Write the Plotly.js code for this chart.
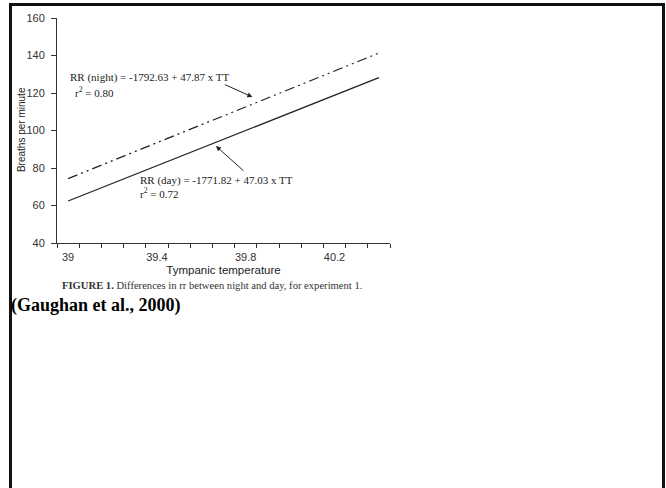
<!DOCTYPE html>
<html>
<head>
<meta charset="utf-8">
<script src="https://cdn.plot.ly/plotly-3.0.1.min.js"></script>
<style>
  html, body { margin: 0; padding: 0; background: #fff; }
  #chart { width: 666px; height: 488px; }
</style>
</head>
<body>
<div id="chart"></div>
<script>
// Data
var tympanicTemp = [39.0, 40.4];
var nightRR = [74.3, 141.3];
var dayRR = [62.4, 128.2];
var xTickValues = [39.0, 39.4, 39.8, 40.2];
var xTickLabels = ['39', '39.4', '39.8', '40.2'];
var yTickValues = [40, 60, 80, 100, 120, 140, 160];

var yTitle = 'Breaths per minute';
var xTitle = 'Tympanic temperature';
var nightText = 'RR (night) = -1792.63 + 47.87 x TT';
var nightR2 = 'r<sup>2</sup> = 0.80';
var dayText = 'RR (day) = -1771.82 + 47.03 x TT';
var dayR2 = 'r<sup>2</sup> = 0.72';
var captionText = '<b>FIGURE 1.</b> Differences in rr between night and day, for experiment 1.';
var sourceText = '<b>(Gaughan et al., 2000)</b>';

var sans = 'Liberation Sans, Arial, sans-serif';
var serif = 'Liberation Serif, Times New Roman, serif';

var traces = [
  {
    x: tympanicTemp, y: nightRR, type: 'scatter', mode: 'lines',
    line: { color: '#222', width: 1.3, dash: '10px,4px,2px,4px,2px,4px' },
    hoverinfo: 'skip', showlegend: false
  },
  {
    x: tympanicTemp, y: dayRR, type: 'scatter', mode: 'lines',
    xaxis: 'x2',
    line: { color: '#222', width: 1.3 },
    hoverinfo: 'skip', showlegend: false
  }
];

var layout = {
  width: 666, height: 488,
  margin: { l: 57, r: 276, t: 18, b: 245, pad: 0 },
  paper_bgcolor: '#fff', plot_bgcolor: '#fff',
  showlegend: false,
  xaxis: {
    range: [38.95, 40.45],
    tickmode: 'array', tickvals: xTickValues, ticktext: xTickLabels,
    ticks: '', showgrid: false, zeroline: false,
    showline: true, linecolor: '#333', linewidth: 1,
    tickfont: { family: sans, size: 11, color: '#333' },
    ticklabelstandoff: 4,
    title: { text: xTitle, font: { family: sans, size: 11.5, color: '#222' }, standoff: 3 }
  },
  xaxis2: {
    range: [38.95, 40.45], overlaying: 'x', anchor: 'y', side: 'bottom',
    tick0: 38.95, dtick: 0.1, tickmode: 'linear',
    ticks: 'outside', ticklen: 4, tickcolor: '#333', tickwidth: 1,
    showticklabels: false, showgrid: false, zeroline: false, showline: false
  },
  yaxis: {
    range: [40, 160],
    tickmode: 'array', tickvals: yTickValues,
    ticks: 'outside', ticklen: 5, tickcolor: '#333', tickwidth: 1,
    showgrid: false, zeroline: false,
    showline: true, linecolor: '#333', linewidth: 1,
    tickfont: { family: sans, size: 11, color: '#333' },
    ticklabelstandoff: 4
  },
  annotations: [
    { x: (21 - 57) / 333, y: 0.502, xref: 'paper', yref: 'paper', xanchor: 'center', yanchor: 'middle',
      text: yTitle, textangle: -90, showarrow: false, font: { family: sans, size: 10, color: '#222' } },
    { x: 39.0, y: 128.5, xref: 'x', yref: 'y', xanchor: 'left', yanchor: 'middle',
      text: nightText, showarrow: false, font: { family: serif, size: 11, color: '#222' } },
    { x: 39.02, y: 120.5, xref: 'x', yref: 'y', xanchor: 'left', yanchor: 'middle',
      text: nightR2, showarrow: false, font: { family: serif, size: 11, color: '#222' } },
    { x: 39.315, y: 73.1, xref: 'x', yref: 'y', xanchor: 'left', yanchor: 'middle',
      text: dayText, showarrow: false, font: { family: serif, size: 11, color: '#222' } },
    { x: 39.315, y: 66.7, xref: 'x', yref: 'y', xanchor: 'left', yanchor: 'middle',
      text: dayR2, showarrow: false, font: { family: serif, size: 11, color: '#222' } },
    { x: 39.83, y: 117.9, xref: 'x', yref: 'y', text: '', showarrow: true,
      ax: -29, ay: -13, arrowhead: 2, arrowsize: 1, arrowwidth: 1, arrowcolor: '#222' },
    { x: 39.666, y: 91.7, xref: 'x', yref: 'y', text: '', showarrow: true,
      ax: 29, ay: 26, arrowhead: 2, arrowsize: 1, arrowwidth: 1, arrowcolor: '#222' },
    { x: 0.4655, y: -0.1867, xref: 'paper', yref: 'paper', xanchor: 'center', yanchor: 'middle',
      text: captionText, showarrow: false, font: { family: serif, size: 10.6, color: '#333' } },
    { x: -0.144, y: -0.2756, xref: 'paper', yref: 'paper', xanchor: 'left', yanchor: 'middle',
      text: sourceText, showarrow: false, font: { family: serif, size: 18, color: '#000' } }
  ],
  shapes: [
    { type: 'rect', xref: 'paper', yref: 'paper',
      x0: (10.5 - 57) / 333, x1: (663.5 - 57) / 333,
      y0: (243 - 4.5) / 225, y1: (243 - 495) / 225,
      line: { color: '#111', width: 3 }, fillcolor: 'rgba(0,0,0,0)' }
  ]
};

Plotly.newPlot('chart', traces, layout, { staticPlot: true, displayModeBar: false });
</script>
</body>
</html>
